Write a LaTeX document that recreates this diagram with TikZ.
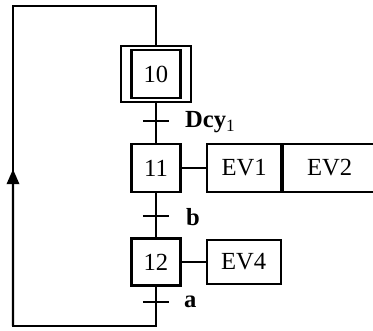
\documentclass[tikz,border=0pt]{standalone}
\usepackage{fontspec}
\setmainfont{Liberation Serif}
\usetikzlibrary{arrows.meta,positioning,calc,fit}
\tikzset{stepbox/.style={draw,line width=1.2pt,minimum width=.98cm,minimum height=.96cm,inner sep=0pt},actbox/.style={draw,line width=1.2pt,minimum width=1.48cm,minimum height=.96cm,inner sep=0pt},link/.style={line width=1.4pt},tick/.style={line width=1.3pt}}
\begin{document}
\begin{tikzpicture}[x=.02cm,y=-.02cm,font=\fontsize{14}{16}\selectfont]
\useasboundingbox (0,0) rectangle (373,331);
% steps
\node[stepbox] (s10) at (156,74) {10};
\node[draw,line width=1.2pt,fit=(s10),inner xsep=.19cm,inner ysep=.06cm] (s10o) {};
\node[stepbox] (s11) at (156,168) {11};
\node[stepbox,minimum height=.94cm] (s12) at (156,262) {12};
% actions
\node[actbox,right=.49cm of s11] (a1) {EV1};
\node[actbox,minimum width=1.86cm,right=0pt of a1] (a2) {EV2};
\node[actbox,minimum height=.88cm,right=.48cm of s12] (a4) {EV4};
% transitions
\coordinate (t1) at (156,121);\coordinate (t2) at (156,216);\coordinate (t3) at (156,302);
\foreach \t in {t1,t2,t3}{\draw[tick]($(\t)+(-13,0)$)--($(\t)+(13,0)$);}
\node[anchor=west] (l1) at ($(t1)+(23,1)$) {\textbf{Dcy}\textsubscript{1}};
\node[anchor=west] (l2) at ($(t2)+(24,1)$) {\textbf{b}};
\node[anchor=west] (l3) at ($(t3)+(22,0)$) {\textbf{a}};
% links
\draw[link](s10o)--(s11);\draw[link](s11)--(s12);
\draw[line width=1.2pt](s11)--(a1);\draw[line width=1.2pt](s12)--(a4);
\coordinate (c1) at (156,326);\coordinate (c2) at (13,326);
\coordinate (c3) at (13,6);\coordinate (c4) at (156,6);
\draw[link](s12.south)--(c1)--(c2)--(c3)--(c4)--(s10o.north);
\draw[link,-{Triangle[width=7pt,length=8.5pt]}](c2)--($(c2)!.49!(c3)$);
\end{tikzpicture}
\end{document}
